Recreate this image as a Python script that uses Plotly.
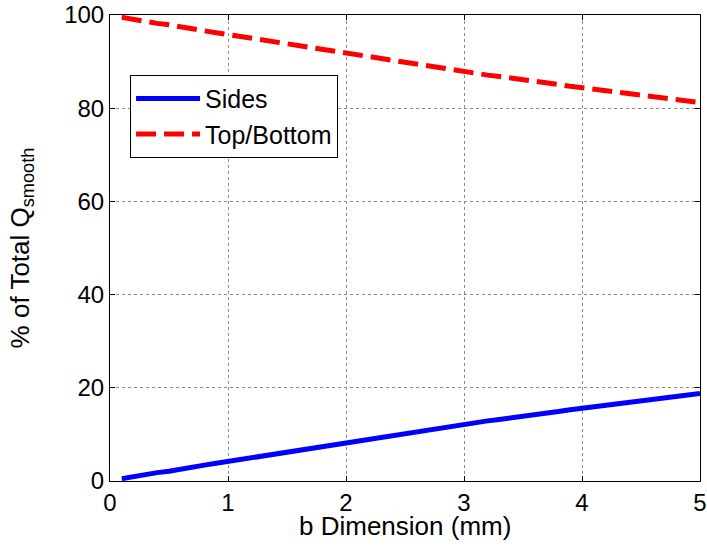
import plotly.graph_objects as go

# b dimension (mm)
b_mm = [0.1, 0.2, 0.3, 0.4, 0.5, 0.6, 0.7, 0.8, 0.9, 1.0,
        1.1, 1.2, 1.3, 1.4, 1.5, 1.6, 1.7, 1.8, 1.9, 2.0,
        2.1, 2.2, 2.3, 2.4, 2.5, 2.6, 2.7, 2.8, 2.9, 3.0,
        3.1, 3.2, 3.3, 3.4, 3.5, 3.6, 3.7, 3.8, 3.9, 4.0,
        4.1, 4.2, 4.3, 4.4, 4.5, 4.6, 4.7, 4.8, 4.9, 5.0]

# share of total Q_smooth through the sides (%)
sides = [0.5, 1.0, 1.3, 1.8, 2.1, 2.6, 2.9, 3.4, 3.8, 4.2,
         4.7, 5.0, 5.5, 5.9, 6.2, 6.7, 7.1, 7.4, 7.9, 8.3,
         8.6, 9.1, 9.5, 9.8, 10.3, 10.7, 11.0, 11.4, 11.8, 12.2,
         12.6, 12.9, 13.2, 13.5, 13.9, 14.3, 14.6, 14.9, 15.3, 15.6,
         15.9, 16.2, 16.6, 16.9, 17.2, 17.5, 17.8, 18.1, 18.5, 18.8]

# share of total Q_smooth through top and bottom (%)
top_bottom = [99.5, 99.0, 98.7, 98.2, 97.9, 97.4, 97.1, 96.6, 96.2, 95.8,
              95.3, 95.0, 94.5, 94.1, 93.8, 93.3, 92.9, 92.6, 92.1, 91.7,
              91.4, 90.9, 90.5, 90.2, 89.7, 89.3, 89.0, 88.6, 88.2, 87.8,
              87.4, 87.1, 86.8, 86.5, 86.1, 85.7, 85.4, 85.1, 84.7, 84.4,
              84.1, 83.8, 83.4, 83.1, 82.8, 82.5, 82.2, 81.9, 81.5, 81.2]

x_ticks = [0, 1, 2, 3, 4, 5]
y_ticks = [0, 20, 40, 60, 80, 100]

font = "Liberation Sans, Arial, sans-serif"

fig = go.Figure()
fig.add_trace(go.Scatter(x=b_mm, y=sides, mode="lines", name="Sides",
                         line=dict(color="#0000ff", width=5)))
fig.add_trace(go.Scatter(x=b_mm, y=top_bottom, mode="lines", name="Top/Bottom",
                         line=dict(color="#ff0000", width=5, dash="20px,8px")))

axis_common = dict(
    showline=True, linecolor="black", linewidth=1, mirror="allticks",
    ticks="inside", ticklen=5, tickcolor="black",
    showgrid=True, gridcolor="#8c8c8c", gridwidth=1, griddash="dot",
    zeroline=False, automargin=False,
    tickfont=dict(size=24, color="black", family=font),
)

fig.update_xaxes(range=[0, 5], tickvals=x_ticks, **axis_common)
fig.update_yaxes(range=[0, 100], tickvals=y_ticks,
                 title=dict(text="% of Total Q<sub>smooth</sub>",
                            font=dict(size=26, family=font, color="black"), standoff=27),
                 **axis_common)

# x-axis title placed just under the tick labels
fig.add_annotation(text="b Dimension (mm)", xref="paper", yref="paper",
                   x=0.5, y=-0.096, xanchor="center", yanchor="middle",
                   showarrow=False, font=dict(size=26, family=font, color="black"))

fig.update_layout(
    width=707, height=548,
    margin=dict(l=110, r=7, t=15, b=67),
    paper_bgcolor="white", plot_bgcolor="white",
    font=dict(family=font, color="black"),
    legend=dict(x=0.034, y=0.872, xanchor="left", yanchor="top",
                bgcolor="white", bordercolor="black", borderwidth=1,
                font=dict(size=25, family=font, color="black"),
                itemwidth=64, tracegroupgap=0),
    showlegend=True,
)

fig.write_html("out.html")
